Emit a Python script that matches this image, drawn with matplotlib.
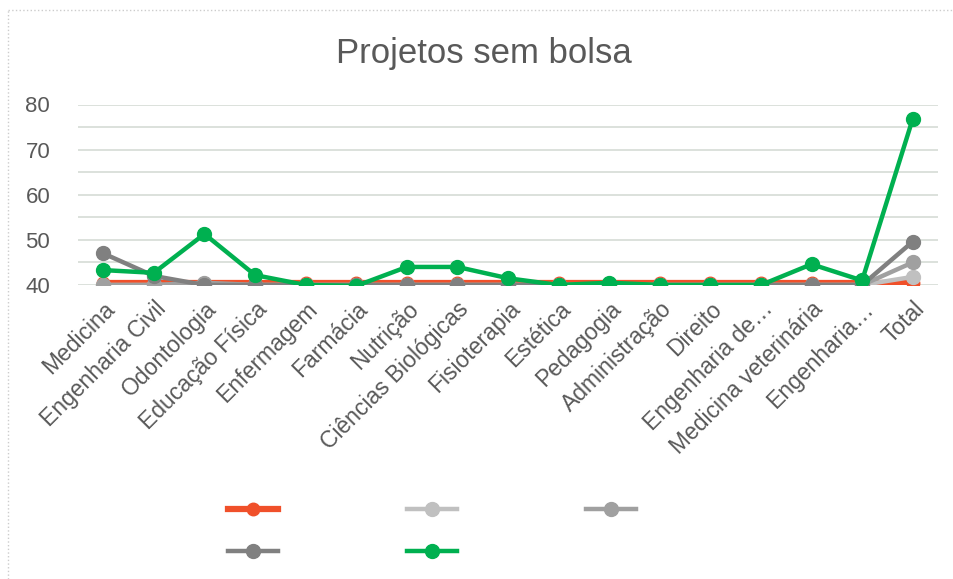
import matplotlib.pyplot as plt
from matplotlib.lines import Line2D

# Dados
cursos = ["Medicina", "Engenharia Civil", "Odontologia", "Educação Física", "Enfermagem",
          "Farmácia", "Nutrição", "Ciências Biológicas", "Fisioterapia", "Estética",
          "Pedagogia", "Administração", "Direito", "Engenharia de…", "Medicina veterinária",
          "Engenharia…", "Total"]

serie_vermelha = [40.5, 40.5, 40.5, 40.5, 40.5, 40.5, 40.5, 40.5, 40.5, 40.5, 40.5, 40.5, 40.5, 40.5, 40.5, 40.5, 40.5]
serie_cinza_claro = [40, 40, 40, 40, 40, 40, 40, 40, 40, 40, 40, 40, 40, 40, 40, 40, 41.8]
serie_cinza = [40, 40, 40.5, 40, 40, 40, 40, 40, 40, 40, 40, 40, 40, 40, 40, 40, 45]
serie_cinza_escuro = [47, 42, 40, 40, 40, 40, 40, 40, 40, 40, 40, 40, 40, 40, 40, 40, 49.6]
serie_verde = [43.3, 42.7, 51.3, 42.2, 40, 39.8, 44, 44, 41.5, 40, 40.5, 40, 40, 40, 44.6, 41, 76.8]

cor_texto = '#595959'

fig = plt.figure(figsize=(9.54, 5.79), dpi=100)
plt.rcParams['font.family'] = ['Liberation Sans', 'DejaVu Sans']
ax = fig.add_axes([78 / 954, 1 - 285 / 579, (938 - 78) / 954, (285 - 104.5) / 579])

x = list(range(len(cursos)))
linhas = []
linhas += ax.plot(x, serie_vermelha, color='#f0502a', lw=4.5, marker='o', ms=9, zorder=2)
linhas += ax.plot(x, serie_cinza_claro, color='#c0c0c0', lw=3.2, marker='o', ms=10, zorder=3)
linhas += ax.plot(x, serie_cinza, color='#a0a0a0', lw=3.2, marker='o', ms=10, zorder=4)
linhas += ax.plot(x, serie_cinza_escuro, color='#808080', lw=3.2, marker='o', ms=10, zorder=5)
linhas += ax.plot(x, serie_verde, color='#00b050', lw=3.2, marker='o', ms=10, zorder=6)

ax.set_xlim(-0.5, 16.5)
ax.set_ylim(40, 80)
ax.set_yticks(range(40, 81, 5))
ax.set_yticklabels([str(v) if v % 10 == 0 else '' for v in range(40, 81, 5)])
ax.grid(axis='y', color='#d5dbd5', lw=1.2, zorder=0)
ax.set_axisbelow(True)
for s in ax.spines.values():
    s.set_visible(False)
ax.tick_params(axis='y', length=0, pad=20, labelsize=16, labelcolor=cor_texto)
ax.tick_params(axis='x', length=0, pad=9, labelsize=16.5, labelcolor=cor_texto)
ax.set_xticks(x)
ax.set_xticklabels(cursos, rotation=45, ha='right', rotation_mode='anchor')

fig.text(484 / 954, 1 - 54 / 579, "Projetos sem bolsa", ha='center', va='center',
         fontsize=25, color=cor_texto)

# Legenda sem rótulos (ordem por colunas)
ordem = [0, 3, 1, 4, 2]
fig.legend([linhas[i] for i in ordem], [''] * 5, ncol=3, loc='center',
           bbox_to_anchor=(432 / 954, 1 - 532 / 579), frameon=False, fontsize=14,
           handlelength=2.6, handletextpad=0, columnspacing=6.6, labelspacing=1.25)

# Moldura pontilhada
fig.add_artist(Line2D([8 / 954, 1.0], [1 - 10 / 579] * 2, transform=fig.transFigure,
                      color='#cccccc', lw=1, ls=':'))
fig.add_artist(Line2D([8 / 954] * 2, [0, 1 - 10 / 579], transform=fig.transFigure,
                      color='#cccccc', lw=1, ls=':'))

plt.savefig('out.png', dpi=100)
